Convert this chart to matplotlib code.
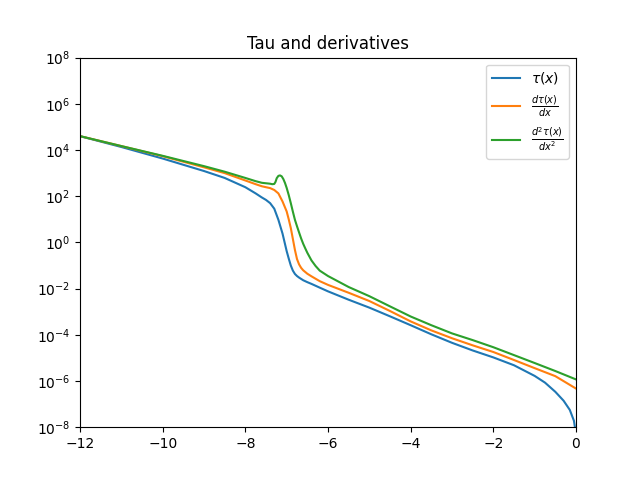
import numpy as np
import matplotlib
matplotlib.use("Agg")
import matplotlib.pyplot as plt

# values
x_tau = [-12.0, -11.0, -10.0, -9.0, -8.5, -8.0, -7.75, -7.6, -7.5, -7.4,
         -7.3, -7.2, -7.1, -7.0, -6.95, -6.9, -6.85, -6.8, -6.75, -6.7,
         -6.6, -6.5, -6.4, -6.2, -6.0, -5.5, -5.0, -4.5, -4.0, -3.5,
         -3.0, -2.5, -2.0, -1.5, -1.0, -0.75, -0.5, -0.3, -0.15, -0.05, 0.0]
tau = [3.98e4, 1.35e4, 4.27e3, 1.23e3, 617, 245, 132, 88, 69, 50,
       28.8, 9.5, 2.4, 0.42, 0.20, 0.10, 0.060, 0.043, 0.035, 0.030,
       0.023, 0.019, 0.016, 0.011, 7.6e-3, 3.3e-3, 1.5e-3, 6.3e-4, 2.6e-4, 1.05e-4,
       4.5e-5, 2.1e-5, 1.05e-5, 4.8e-6, 1.66e-6, 8.5e-7, 3.4e-7, 1.4e-7, 5.6e-8, 1.9e-8, 5e-9]

x_dtau = [-12.0, -11.0, -10.0, -9.0, -8.5, -8.0, -7.75, -7.6, -7.5, -7.4,
          -7.3, -7.2, -7.1, -7.0, -6.95, -6.9, -6.85, -6.8, -6.75, -6.7,
          -6.65, -6.6, -6.5, -6.4, -6.2, -6.0, -5.5, -5.0, -4.5, -4.0,
          -3.5, -3.0, -2.5, -2.0, -1.5, -1.0, -0.5, 0.0]
dtau = [3.98e4, 1.48e4, 5.4e3, 1.78e3, 1.0e3, 479, 331, 269, 245, 224,
        186, 132, 59, 21.9, 10, 4.2, 1.41, 0.47, 0.19, 0.112,
        0.079, 0.062, 0.044, 0.034, 0.021, 0.0145, 6.6e-3, 2.9e-3, 1.07e-3, 3.8e-4,
        1.55e-4, 7.1e-5, 3.5e-5, 1.8e-5, 8.1e-6, 3.6e-6, 1.62e-6, 4.7e-7]

x_d2tau = [-12.0, -11.0, -10.0, -9.0, -8.5, -8.0, -7.75, -7.6, -7.5, -7.4,
           -7.35, -7.3, -7.27, -7.24, -7.2, -7.16, -7.12, -7.08, -7.04, -7.0,
           -6.95, -6.9, -6.85, -6.8, -6.75, -6.7, -6.65, -6.6, -6.55, -6.5,
           -6.4, -6.3, -6.2, -6.0, -5.5, -5.0, -4.5, -4.0, -3.5, -3.0,
           -2.5, -2.0, -1.5, -1.0, -0.5, 0.0]
d2tau = [3.98e4, 1.48e4, 5.6e3, 2.0e3, 1.15e3, 617, 447, 380, 363, 347,
         331, 339, 417, 603, 759, 794, 724, 550, 372, 229,
         112, 50, 21.4, 9.5, 5.0, 2.7, 1.48, 0.87, 0.55, 0.355,
         0.166, 0.095, 0.060, 0.035, 0.0117, 4.7e-3, 1.7e-3, 6.2e-4, 2.6e-4, 1.15e-4,
         5.9e-5, 2.9e-5, 1.32e-5, 6.0e-6, 2.7e-6, 1.17e-6]

fig, ax = plt.subplots(figsize=(6.4, 4.8), dpi=100)
ax.plot(x_tau, tau, label=r'$\tau(x)$')
ax.plot(x_dtau, dtau, label=r'$\frac{d\tau(x)}{dx}$')
ax.plot(x_d2tau, d2tau, label=r'$\frac{d^2\tau(x)}{dx^2}$')
ax.set_yscale('log')
ax.set_xlim(-12, 0)
ax.set_ylim(1e-8, 1e8)
ax.set_yticks([1e-8, 1e-6, 1e-4, 1e-2, 1e0, 1e2, 1e4, 1e6, 1e8])
ax.minorticks_off()
ax.set_title('Tau and derivatives')
ax.legend(loc='upper right')

plt.savefig('out.png')
